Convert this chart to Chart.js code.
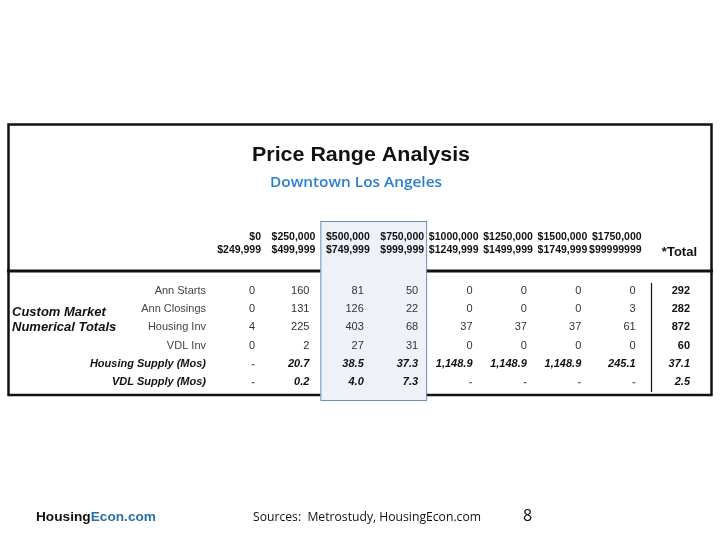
<!DOCTYPE html>
<html>
<head>
<meta charset="utf-8">
<script src="https://cdn.jsdelivr.net/npm/chart.js@4.4.1/dist/chart.umd.min.js"></script>
<style>
  body { margin: 0; background: #fff; }
  canvas { display: block; }
</style>
</head>
<body>
<canvas id="priceTable" width="720" height="540"></canvas>
<script>
// column headers, two lines each
const rangeFrom = ["$0", "$250,000", "$500,000", "$750,000", "$1000,000", "$1250,000", "$1500,000", "$1750,000", ""];
const rangeTo = ["$249,999", "$499,999", "$749,999", "$999,999", "$1249,999", "$1499,999", "$1749,999", "$99999999", "*Total"];

// row labels
const rowLabels = ["Ann Starts", "Ann Closings", "Housing Inv", "VDL Inv", "Housing Supply (Mos)", "VDL Supply (Mos)"];

// values per row (last one is the total column), null = "-"
const annStarts = [0, 160, 81, 50, 0, 0, 0, 0, 292];
const annClosings = [0, 131, 126, 22, 0, 0, 0, 3, 282];
const housingInv = [4, 225, 403, 68, 37, 37, 37, 61, 872];
const vdlInv = [0, 2, 27, 31, 0, 0, 0, 0, 60];
const housingSupply = [null, 20.7, 38.5, 37.3, 1148.9, 1148.9, 1148.9, 245.1, 37.1];
const vdlSupply = [null, 0.2, 4.0, 7.3, null, null, null, null, 2.5];

const rowValues = [annStarts, annClosings, housingInv, vdlInv, housingSupply, vdlSupply];
const supplyRows = [4, 5];
const highlightCols = [2, 3];

const SANS = "'Liberation Sans', Arial, sans-serif";

// format a cell value
function fmt(v, decimals) {
  if (v === null) return "-";
  return v.toLocaleString("en-US", { minimumFractionDigits: decimals, maximumFractionDigits: decimals });
}

// draw text squeezed/stretched to a given width
function fitText(ctx, text, x, y, width, align) {
  const w = ctx.measureText(text).width;
  ctx.save();
  ctx.translate(x, y);
  ctx.scale(width / w, 1);
  ctx.textAlign = align;
  ctx.fillText(text, 0, 0);
  ctx.restore();
}

// table drawing plugin
const tablePlugin = {
  id: "priceTable",
  afterDraw(chart) {
    const ctx = chart.ctx;
    const xs = chart.scales.x;
    const ys = chart.scales.y;
    const step = xs.getPixelForValue(1) - xs.getPixelForValue(0);
    const last = rangeTo.length - 1;
    ctx.save();

    // frame
    ctx.strokeStyle = "#111";
    ctx.lineWidth = 2.5;
    ctx.strokeRect(8.5, 124.5, 703, 270.5);
    ctx.lineWidth = 3;
    ctx.beginPath();
    ctx.moveTo(7, 271);
    ctx.lineTo(713, 271);
    ctx.stroke();

    // highlighted columns box (sits over the frame lines)
    const hx1 = xs.getPixelForValue(highlightCols[0]) - step + 11;
    const hx2 = xs.getPixelForValue(highlightCols[1]) + 8;
    ctx.fillStyle = "#eef1f7";
    ctx.fillRect(hx1, 221, hx2 - hx1, 179);
    ctx.strokeStyle = "#6f8fb3";
    ctx.lineWidth = 1;
    ctx.strokeRect(hx1 + 0.5, 221.5, hx2 - hx1, 179);

    // separator before total column
    const sepX = Math.round(xs.getPixelForValue(last) - step + 15) + 0.5;
    ctx.lineWidth = 1.2;
    ctx.strokeStyle = "#111";
    ctx.beginPath();
    ctx.moveTo(sepX, 283);
    ctx.lineTo(sepX, 392);
    ctx.stroke();

    // title
    ctx.fillStyle = "#111";
    ctx.textBaseline = "alphabetic";
    ctx.font = "bold 21px " + SANS;
    fitText(ctx, "Price Range Analysis", 252, 161, 218, "left");

    ctx.fillStyle = "#2a7fd0";
    ctx.font = "600 15px 'Open Sans', sans-serif";
    fitText(ctx, "Downtown Los Angeles", 270, 187, 172, "left");

    // column headers
    ctx.fillStyle = "#111";
    ctx.textAlign = "right";
    ctx.textBaseline = "middle";
    rangeTo.forEach((t, i) => {
      const x = xs.getPixelForValue(i) + (i === last ? 7 : 6);
      if (i === last) {
        ctx.font = "bold 13px " + SANS;
        ctx.fillText(t, x, 252);
      } else {
        ctx.font = "bold 10.5px " + SANS;
        ctx.fillText(rangeFrom[i], x, 237);
        ctx.fillText(t, x, 250);
      }
    });

    // row labels
    rowLabels.forEach((lab, j) => {
      const y = ys.getPixelForValue(j);
      const isSupply = supplyRows.includes(j);
      ctx.font = (isSupply ? "italic bold 11px " : "11px ") + SANS;
      ctx.fillStyle = isSupply ? "#111" : "#444";
      ctx.fillText(lab, 206, y);
    });

    // group label
    ctx.textAlign = "left";
    ctx.fillStyle = "#111";
    ctx.font = "italic bold 13px " + SANS;
    ctx.fillText("Custom Market", 12, 312);
    ctx.fillText("Numerical Totals", 12, 327);

    // cells
    ctx.textAlign = "right";
    rowValues.forEach((vals, j) => {
      const y = ys.getPixelForValue(j);
      const isSupply = supplyRows.includes(j);
      vals.forEach((v, i) => {
        const x = xs.getPixelForValue(i);
        const bold = isSupply || i === last;
        ctx.font = (isSupply ? "italic " : "") + (bold ? "bold " : "") + "11px " + SANS;
        ctx.fillStyle = v === null ? "#666" : (bold ? "#111" : "#333");
        ctx.fillText(fmt(v, isSupply ? 1 : 0), x, y);
      });
    });

    // footer
    ctx.textBaseline = "alphabetic";
    ctx.textAlign = "left";
    ctx.font = "bold 13px " + SANS;
    const w1 = ctx.measureText("Housing").width;
    const w2 = ctx.measureText("Econ.com").width;
    const sx = 120 / (w1 + w2);
    ctx.save();
    ctx.translate(36, 521);
    ctx.scale(sx, 1);
    ctx.fillStyle = "#111";
    ctx.fillText("Housing", 0, 0);
    ctx.fillStyle = "#2a6fa5";
    ctx.fillText("Econ.com", w1, 0);
    ctx.restore();

    ctx.fillStyle = "#111";
    ctx.font = "12px 'Open Sans', sans-serif";
    fitText(ctx, "Sources:  Metrostudy, HousingEcon.com", 253, 521, 228, "left");

    ctx.font = "16px 'Open Sans', sans-serif";
    ctx.fillText("8", 523, 521);

    ctx.restore();
  }
};

new Chart(document.getElementById("priceTable"), {
  type: "line",
  data: {
    labels: rangeTo,
    datasets: []
  },
  options: {
    responsive: false,
    animation: false,
    devicePixelRatio: 1,
    layout: {
      padding: { left: 255, right: 30, top: 291, bottom: 158 }
    },
    plugins: {
      legend: { display: false },
      tooltip: { enabled: false }
    },
    scales: {
      x: { type: "category", display: false, offset: false },
      y: { type: "category", labels: rowLabels, display: false, offset: false }
    }
  },
  plugins: [tablePlugin]
});
</script>
</body>
</html>
